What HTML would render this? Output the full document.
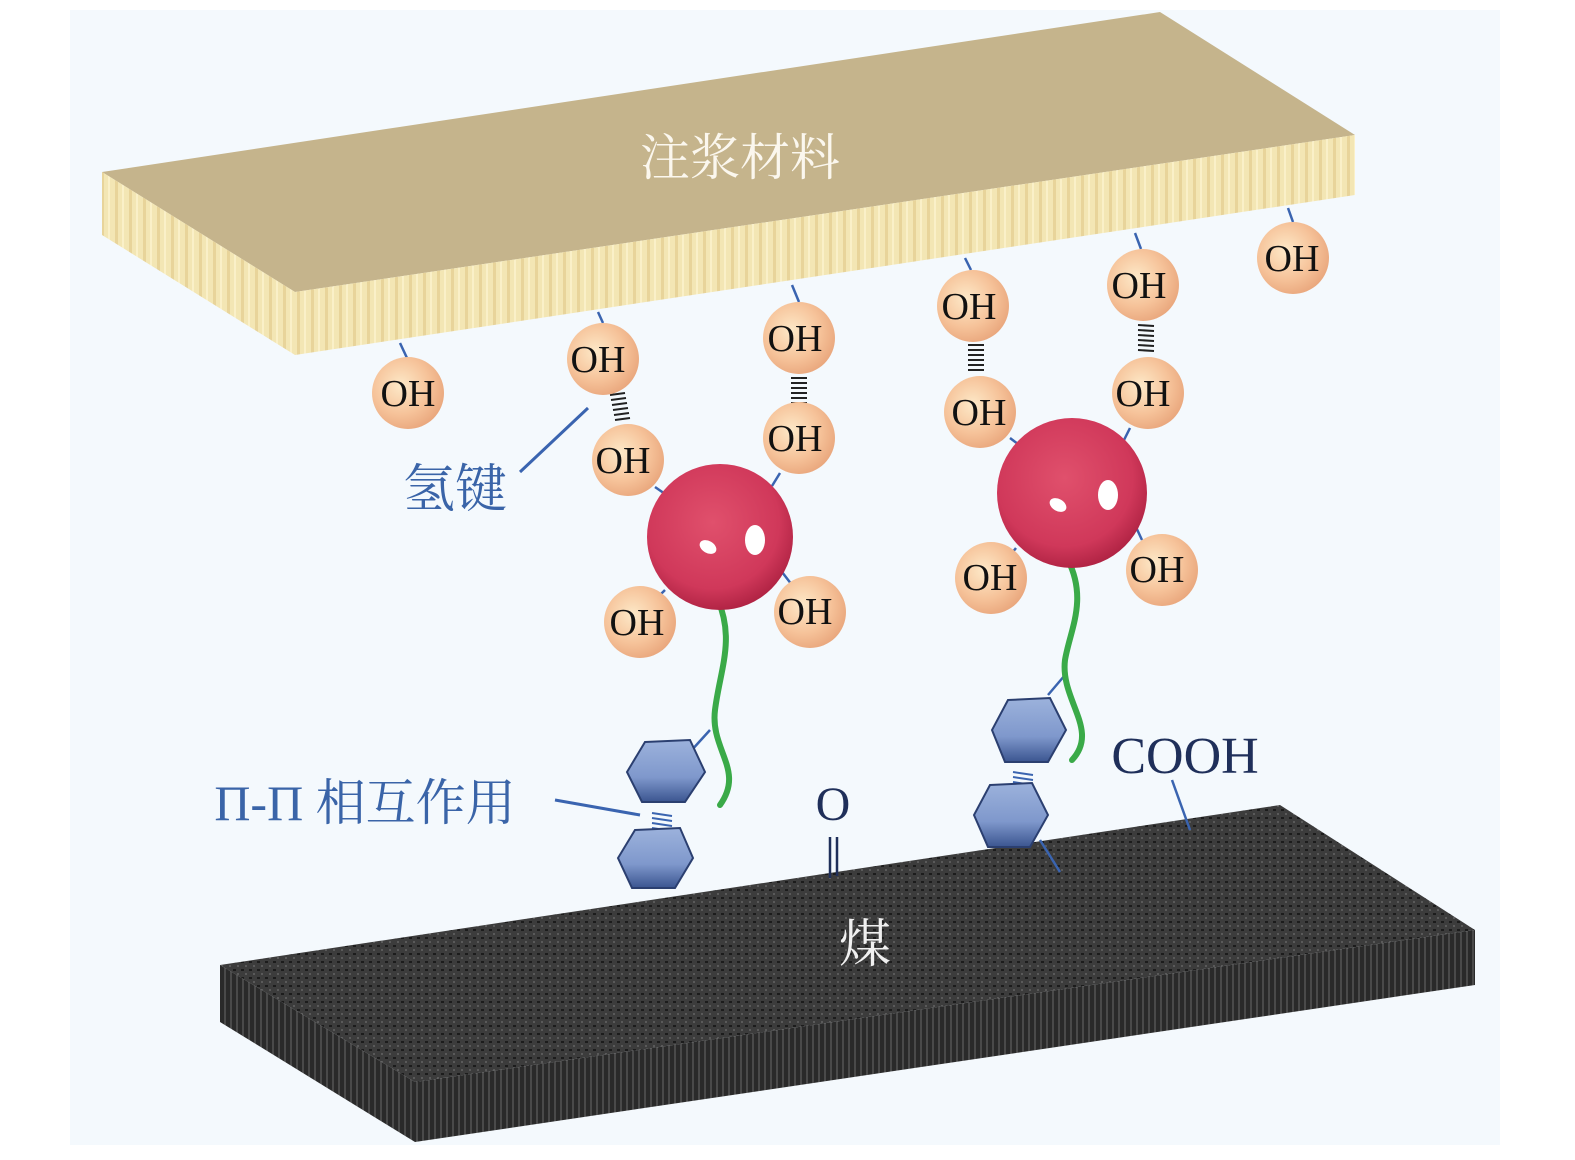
<!DOCTYPE html>
<html><head><meta charset="utf-8"><style>
html,body{margin:0;padding:0;background:#fff;width:1575px;height:1160px;overflow:hidden}
svg text{font-family:"Liberation Serif","Noto Serif CJK SC",serif}
</style></head><body>
<svg width="1575" height="1160" viewBox="0 0 1575 1160" xmlns="http://www.w3.org/2000/svg">
<defs>
<radialGradient id="oh" cx="0.4" cy="0.4" r="0.65">
<stop offset="0" stop-color="#fde9c8"/><stop offset="0.6" stop-color="#f6c39a"/><stop offset="1" stop-color="#e9a67c"/></radialGradient>
<radialGradient id="red" cx="0.45" cy="0.4" r="0.65">
<stop offset="0" stop-color="#e0506c"/><stop offset="0.7" stop-color="#d0385a"/><stop offset="1" stop-color="#a81e3e"/></radialGradient>
<linearGradient id="hex" x1="0" y1="0" x2="0" y2="1">
<stop offset="0" stop-color="#9cb2dc"/><stop offset="0.6" stop-color="#7f98cc"/><stop offset="1" stop-color="#3b5590"/></linearGradient>
<pattern id="stripeY" width="14" height="10" patternUnits="userSpaceOnUse">
<rect width="14" height="10" fill="#f3e6b4"/><rect x="3" width="3" height="10" fill="#e8d49a"/><rect x="10" width="2" height="10" fill="#faf0c8"/></pattern>
<pattern id="stripeK" width="6" height="10" patternUnits="userSpaceOnUse">
<rect width="6" height="10" fill="#2a2a2a"/><rect x="2" width="2" height="10" fill="#4a4a4a"/></pattern>
<pattern id="coal" width="8" height="8" patternUnits="userSpaceOnUse">
<rect width="8" height="8" fill="#3c3c3c"/><rect x="1" y="1" width="3" height="2" fill="#1c1c1c"/><rect x="5" y="5" width="2" height="2" fill="#5a5a5a"/></pattern>
</defs>
<rect x="70" y="10" width="1430" height="1135" fill="#f4f9fd"/>
<!-- top slab -->
<polygon points="102,172 1160,12 1355,135 295,292" fill="#c5b48c"/>
<polygon points="102,172 295,292 295,355 102,235" fill="url(#stripeY)"/>
<polygon points="295,292 1355,135 1355,195 295,355" fill="url(#stripeY)"/>
<text x="740" y="175" font-size="50" fill="#fbf7ee" text-anchor="middle">注浆材料</text>
<!-- coal slab -->
<polygon points="220,965 1280,805 1475,930 415,1082" fill="url(#coal)"/>
<polygon points="220,965 415,1082 415,1142 220,1022" fill="url(#stripeK)"/>
<polygon points="415,1082 1475,930 1475,985 415,1142" fill="url(#stripeK)"/>
<text x="865" y="962" font-size="52" fill="#f0f0f0" text-anchor="middle">煤</text>
<!-- connector lines -->
<g stroke="#3a64b0" stroke-width="2.5" fill="none">
<line x1="400" y1="343" x2="407" y2="358"/><line x1="598" y1="312" x2="603" y2="323"/>
<line x1="792" y1="285" x2="799" y2="302"/><line x1="965" y1="258" x2="971" y2="270"/>
<line x1="1135" y1="233" x2="1141" y2="249"/><line x1="1288" y1="208" x2="1293" y2="222"/>
<line x1="655" y1="487" x2="668" y2="496"/><line x1="780" y1="473" x2="772" y2="486"/>
<line x1="665" y1="590" x2="655" y2="600"/><line x1="782" y1="572" x2="792" y2="585"/>
<line x1="1010" y1="438" x2="1022" y2="447"/><line x1="1130" y1="428" x2="1124" y2="440"/>
<line x1="1016" y1="548" x2="1008" y2="558"/><line x1="1135" y1="525" x2="1142" y2="540"/>
<line x1="710" y1="730" x2="690" y2="752"/><line x1="1065" y1="675" x2="1048" y2="695"/>
<line x1="1040" y1="840" x2="1060" y2="872"/><line x1="1172" y1="780" x2="1190" y2="830"/>
<line x1="588" y1="408" x2="520" y2="472" stroke-width="3"/>
<line x1="555" y1="800" x2="640" y2="815" stroke-width="3"/>
</g>
<!-- hydrogen bond springs -->
<g stroke="#222" stroke-width="2">
<line x1="610" y1="395" x2="625" y2="393"/><line x1="611" y1="400" x2="626" y2="398"/><line x1="612" y1="405" x2="627" y2="403"/><line x1="613" y1="410" x2="628" y2="408"/><line x1="614" y1="415" x2="629" y2="413"/><line x1="615" y1="420" x2="630" y2="418"/>
<line x1="791" y1="378" x2="807" y2="378"/><line x1="791" y1="383" x2="807" y2="383"/><line x1="791" y1="388" x2="807" y2="388"/><line x1="791" y1="393" x2="807" y2="393"/><line x1="791" y1="398" x2="807" y2="398"/><line x1="791" y1="403" x2="807" y2="403"/>
<line x1="968" y1="345" x2="984" y2="345"/><line x1="968" y1="350" x2="984" y2="350"/><line x1="968" y1="355" x2="984" y2="355"/><line x1="968" y1="360" x2="984" y2="360"/><line x1="968" y1="365" x2="984" y2="365"/><line x1="968" y1="370" x2="984" y2="370"/>
<line x1="1138" y1="325" x2="1154" y2="326"/><line x1="1138" y1="330" x2="1154" y2="331"/><line x1="1138" y1="335" x2="1154" y2="336"/><line x1="1138" y1="340" x2="1154" y2="341"/><line x1="1138" y1="345" x2="1154" y2="346"/><line x1="1138" y1="350" x2="1154" y2="351"/>
</g>
<g stroke="#3a64b0" stroke-width="2">
<line x1="652" y1="813" x2="672" y2="816"/><line x1="652" y1="818" x2="672" y2="821"/><line x1="652" y1="823" x2="672" y2="826"/><line x1="652" y1="828" x2="672" y2="831"/>
<line x1="1013" y1="772" x2="1033" y2="775"/><line x1="1013" y1="777" x2="1033" y2="780"/><line x1="1013" y1="782" x2="1033" y2="785"/><line x1="1013" y1="787" x2="1033" y2="790"/>
</g>
<!-- green chains -->
<g stroke="#3aaa48" stroke-width="6" fill="none" stroke-linecap="round">
<path d="M718,600 C735,640 720,670 715,710 C710,750 745,770 720,805"/>
<path d="M1068,560 C1088,600 1070,630 1065,660 C1060,700 1100,730 1072,760"/>
</g>
<!-- hexagons -->
<g stroke="#2b3f70" stroke-width="2">
<polygon points="645,742 690,740 705,772 685,802 642,802 627,772" fill="url(#hex)"/>
<polygon points="635,830 680,828 693,858 675,888 632,888 618,858" fill="url(#hex)"/>
<polygon points="1008,700 1050,698 1066,730 1048,762 1005,762 992,730" fill="url(#hex)"/>
<polygon points="990,785 1032,783 1048,815 1030,847 988,847 974,815" fill="url(#hex)"/>
</g>
<!-- red balls -->
<circle cx="720" cy="537" r="73" fill="url(#red)"/>
<ellipse cx="755" cy="540" rx="10" ry="15" fill="#fff"/><ellipse cx="708" cy="547" rx="9" ry="6" fill="#fff" transform="rotate(30 708 547)"/>
<circle cx="1072" cy="493" r="75" fill="url(#red)"/>
<ellipse cx="1108" cy="495" rx="10" ry="15" fill="#fff"/><ellipse cx="1058" cy="505" rx="9" ry="6" fill="#fff" transform="rotate(30 1058 505)"/>
<!-- OH balls -->
<g font-size="38" fill="#111" text-anchor="middle">
<g><circle cx="408" cy="393" r="36" fill="url(#oh)"/><text x="408" y="406">OH</text></g>
<g><circle cx="603" cy="359" r="36" fill="url(#oh)"/><text x="598" y="372">OH</text></g>
<g><circle cx="628" cy="460" r="36" fill="url(#oh)"/><text x="623" y="473">OH</text></g>
<g><circle cx="799" cy="338" r="36" fill="url(#oh)"/><text x="795" y="351">OH</text></g>
<g><circle cx="799" cy="438" r="36" fill="url(#oh)"/><text x="795" y="451">OH</text></g>
<g><circle cx="973" cy="306" r="36" fill="url(#oh)"/><text x="969" y="319">OH</text></g>
<g><circle cx="980" cy="412" r="36" fill="url(#oh)"/><text x="979" y="425">OH</text></g>
<g><circle cx="1143" cy="285" r="36" fill="url(#oh)"/><text x="1139" y="298">OH</text></g>
<g><circle cx="1148" cy="393" r="36" fill="url(#oh)"/><text x="1143" y="406">OH</text></g>
<g><circle cx="1293" cy="258" r="36" fill="url(#oh)"/><text x="1292" y="271">OH</text></g>
<g><circle cx="640" cy="622" r="36" fill="url(#oh)"/><text x="637" y="635">OH</text></g>
<g><circle cx="810" cy="612" r="36" fill="url(#oh)"/><text x="805" y="624">OH</text></g>
<g><circle cx="991" cy="578" r="36" fill="url(#oh)"/><text x="990" y="590">OH</text></g>
<g><circle cx="1162" cy="570" r="36" fill="url(#oh)"/><text x="1157" y="582">OH</text></g>
</g>
<!-- labels -->
<text x="455" y="507" font-size="52" fill="#3a64a8" text-anchor="middle">氢键</text>
<text x="365" y="820" font-size="50" fill="#3a64a8" text-anchor="middle">Π-Π 相互作用</text>
<text x="833" y="820" font-size="48" fill="#1f2f5a" text-anchor="middle">O</text>
<g stroke="#1f2f5a" stroke-width="2.5"><line x1="830" y1="837" x2="830" y2="878"/><line x1="837" y1="837" x2="837" y2="876"/></g>
<text x="1185" y="773" font-size="52" fill="#1f2f5a" text-anchor="middle">COOH</text>
</svg>
</body></html>
